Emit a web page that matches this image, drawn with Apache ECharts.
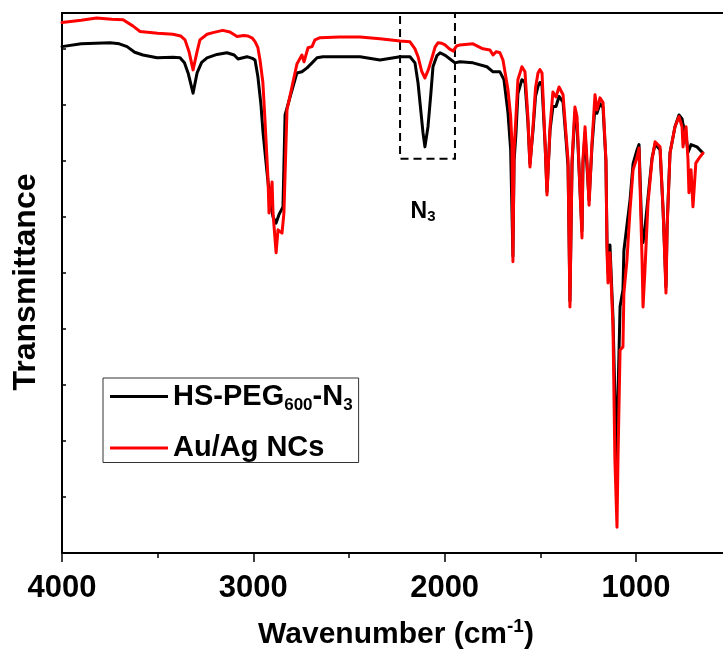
<!DOCTYPE html>
<html>
<head>
<meta charset="utf-8">
<script src="https://cdn.jsdelivr.net/npm/echarts@6/dist/echarts.min.js"></script>
<style>
  html, body { margin: 0; padding: 0; background: #fff; }
  #chart { width: 723px; height: 656px; }
</style>
</head>
<body>
<div id="chart"></div>
<script>
// ---- data (wavenumber cm^-1, transmittance a.u.) ----
const wnBlack = [4000,3900,3749,3700,3660,3620,3577,3503,3420,3383,3360,3341,3315,3294,3270,3242,3190,3138,3100,3080,3033,3005,2991,2976,2960,2949,2930,2913,2897,2881,2866,2845,2834,2808,2772,2746,2719,2693,2667,2636,2442,2338,2233,2181,2155,2139,2113,2103,2087,2072,2061,2040,2024,1995,1972,1946,1920,1852,1779,1747,1711,1690,1669,1655,1643,1637,1627,1617,1596,1580,1565,1554,1538,1525,1512,1502,1491,1475,1465,1449,1434,1418,1402,1381,1366,1355,1345,1334,1319,1308,1292,1282,1277,1266,1256,1245,1230,1214,1204,1188,1172,1157,1151,1146,1136,1120,1110,1099,1094,1083,1068,1063,1047,1031,1015,994,984,968,963,953,937,916,900,874,858,843,837,822,796,775,759,754,738,728,712,681,650];
const tBlack = [90.4,90.9,91.1,90.9,90.4,89.4,88.9,88.4,88.5,88.4,87.5,85.7,82.1,85.7,87.6,88.4,89.0,89.3,88.9,88.2,88.6,88.3,88.0,85.0,80.0,75.0,68.5,62.9,60.0,58.9,60.4,61.8,78.2,81.4,85.7,85.9,86.6,87.5,88.4,88.6,88.6,88.0,88.6,88.6,87.5,83.9,75.0,72.5,76.1,82.0,86.8,88.8,89.3,88.8,88.2,87.5,87.7,87.5,86.8,85.9,85.9,84.5,78.6,72.0,53.0,70.0,75.0,82.0,84.5,84.0,77.0,69.5,75.5,81.5,83.3,84.0,83.5,73.0,64.5,75.5,79.7,79.7,81.5,80.5,74.0,69.0,45.0,69.5,78.5,76.5,64.5,57.5,69.5,75.0,69.0,63.0,72.5,79.7,78.5,80.2,79.5,70.0,55.0,50.0,55.0,42.0,28.0,16.6,28.0,44.0,47.0,54.0,58.5,63.0,69.5,72.0,72.9,56.0,55.4,58.0,63.5,70.5,73.0,72.0,61.0,47.5,58.5,71.4,76.1,78.2,77.5,76.5,74.5,71.5,72.9,72.5,71.4];

const wnRed = [4000,3900,3819,3740,3681,3630,3592,3500,3420,3380,3357,3336,3315,3294,3279,3242,3211,3160,3122,3085,3050,3028,3005,2991,2976,2965,2950,2939,2923,2918,2902,2897,2881,2871,2850,2840,2824,2798,2772,2746,2735,2714,2693,2678,2651,2550,2442,2338,2233,2181,2155,2139,2120,2103,2085,2066,2050,2035,2015,1998,1975,1956,1938,1920,1852,1800,1763,1747,1730,1711,1695,1669,1655,1648,1643,1637,1627,1617,1596,1580,1565,1554,1538,1525,1512,1502,1491,1475,1465,1449,1434,1418,1402,1381,1366,1355,1345,1334,1319,1308,1292,1282,1277,1266,1256,1245,1230,1214,1204,1188,1172,1157,1151,1146,1136,1120,1110,1099,1094,1083,1068,1063,1047,1031,1015,994,984,968,963,953,937,916,900,874,858,843,837,822,796,775,759,754,738,728,723,712,702,687,670,650];
const tRed = [94.7,95.1,95.5,95.3,95.2,94.1,93.1,92.8,92.6,92.3,91.6,89.5,86.25,89.5,91.6,92.6,92.9,93.3,93.0,92.2,92.4,92.3,91.9,91.3,90.2,88.0,84.0,77.3,66.6,60.7,66.25,60.7,53.6,57.7,57.1,60.7,79.1,83.2,87.3,88.9,87.7,90.2,90.4,91.6,92.0,92.1,92.1,91.8,91.4,91.25,90.0,88.6,86.0,84.8,86.3,88.4,90.3,91.1,91.0,90.7,90.0,89.6,90.5,90.7,90.9,90.0,89.8,88.9,89.5,89.3,88.0,82.7,78.0,73.0,52.0,72.0,78.0,84.5,86.8,85.9,78.0,68.9,76.1,83.0,85.7,86.3,85.7,73.2,63.9,76.1,82.3,81.4,83.2,81.8,75.0,70.2,43.9,70.2,79.6,77.9,64.3,56.25,70.2,76.1,70.2,62.1,73.2,81.8,79.1,81.25,80.4,70.2,53.6,48.2,53.6,40.4,16.6,4.6,16.6,36.25,36.8,46.4,52.3,61.25,68.4,70.7,72.3,52.3,43.9,50.5,62.5,70.2,73.4,72.5,61.25,46.4,58.2,71.4,76.1,77.9,76.1,72.5,76.1,70.2,64.3,68.4,61.8,69.6,70.5,71.4];

const seriesNames = ['HS-PEG600-N3', 'Au/Ag NCs'];
const xMajorTicks = [4000, 3000, 2000, 1000];
const xMinorTicks = [3500, 2500, 1500];
const xRange = [545, 4000];
const yRange = [0, 96.4];
const n3Box = [[2233, 96.4], [1946, 70.4]];   // dashed box around the azide band
const n3LabelPos = [2113, 61];

// ---- chart ----
const FONT = '"Liberation Sans", Arial, Helvetica, sans-serif';
const chart = echarts.init(document.getElementById('chart'), null, { renderer: 'canvas' });

function pairs(xs, ys) { return xs.map((x, i) => [x, ys[i]]); }

const axisBase = { type: 'value', inverse: true, min: xRange[0], max: xRange[1], splitLine: { show: false } };

const option = {
  animation: false,
  backgroundColor: '#ffffff',
  color: ['#000000', '#ff0000'],
  grid: {
    left: 62, top: 13, right: 0, bottom: 103,
    containLabel: false, outerBoundsMode: 'none',
    show: false
  },
  xAxis: [
    Object.assign({}, axisBase, {
      position: 'bottom',
      axisLine: { show: true, lineStyle: { color: '#000', width: 2 } },
      axisTick: { show: true, length: 9, customValues: xMajorTicks, lineStyle: { color: '#000', width: 1.5 } },
      axisLabel: {
        margin: 20, customValues: xMajorTicks,
        formatter: v => String(v),
        color: '#000', fontSize: 31, fontWeight: 'bold', fontFamily: FONT
      }
    }),
    Object.assign({}, axisBase, {
      position: 'bottom',
      axisLine: { show: false },
      axisTick: { show: true, length: 5, customValues: xMinorTicks, lineStyle: { color: '#000', width: 1.5 } },
      axisLabel: { show: false }
    }),
    Object.assign({}, axisBase, {
      position: 'top',
      axisLine: { show: true, lineStyle: { color: '#000', width: 2 } },
      axisTick: { show: false },
      axisLabel: { show: false }
    })
  ],
  yAxis: {
    type: 'value',
    min: yRange[0], max: yRange[1], interval: 10,
    position: 'left',
    axisLine: { show: true, lineStyle: { color: '#000', width: 2 } },
    axisTick: { show: true, inside: true, length: 4, lineStyle: { color: '#000', width: 1.5 } },
    axisLabel: { show: false },
    splitLine: { show: false }
  },
  legend: {
    orient: 'vertical',
    left: 103, top: 378,
    padding: [4, 6, 0, 7],
    borderColor: '#333', borderWidth: 1,
    itemGap: 20,
    icon: 'rect',
    itemWidth: 58, itemHeight: 3,
    data: seriesNames,
    formatter: function (name) {
      if (name === 'HS-PEG600-N3') return '{a|HS-PEG}{s|600}{a|-N}{s|3}';
      return '{a|' + name + '}';
    },
    textStyle: {
      color: '#000',
      rich: {
        a: { fontSize: 29, fontWeight: 'bold', fontFamily: FONT, color: '#000', lineHeight: 34 },
        s: { fontSize: 17, fontWeight: 'bold', fontFamily: FONT, color: '#000', lineHeight: 8, verticalAlign: 'bottom' }
      }
    }
  },
  graphic: [
    {
      type: 'text', x: 26, y: 282, rotation: Math.PI / 2,
      style: {
        text: 'Transmittance', fill: '#000',
        font: 'bold 32px ' + FONT,
        align: 'center', verticalAlign: 'middle',
        textAlign: 'center', textVerticalAlign: 'middle'
      }
    },
    {
      type: 'text', x: 396, y: 635,
      style: {
        text: '{a|Wavenumber (cm}{p|-1}{a|)}', fill: '#000',
        align: 'center', verticalAlign: 'middle',
        textAlign: 'center', textVerticalAlign: 'middle',
        rich: {
          a: { fontSize: 30, fontWeight: 'bold', fontFamily: FONT, fill: '#000', lineHeight: 36 },
          p: { fontSize: 19, fontWeight: 'bold', fontFamily: FONT, fill: '#000', lineHeight: 10, verticalAlign: 'top' }
        }
      }
    }
  ],
  series: [
    {
      name: seriesNames[0],
      type: 'line',
      xAxisIndex: 0,
      data: pairs(wnBlack, tBlack),
      showSymbol: false, symbol: 'none',
      lineStyle: { color: '#000000', width: 3, join: 'round', cap: 'round' },
      z: 2
    },
    {
      name: seriesNames[1],
      type: 'line',
      xAxisIndex: 0,
      data: pairs(wnRed, tRed),
      showSymbol: false, symbol: 'none',
      lineStyle: { color: '#ff0000', width: 3, join: 'round', cap: 'round' },
      z: 3,
      markArea: {
        silent: true,
        itemStyle: { color: 'rgba(0,0,0,0)', borderColor: '#000', borderWidth: 2, borderType: [8, 5] },
        label: { show: false },
        data: [[{ coord: n3Box[0] }, { coord: n3Box[1] }]]
      },
      markPoint: {
        silent: true,
        symbol: 'circle', symbolSize: 0,
        data: [{
          coord: n3LabelPos,
          label: {
            show: true, position: 'inside',
            formatter: '{n|N}{s|3}',
            rich: {
              n: { fontSize: 23, fontWeight: 'bold', fontFamily: FONT, color: '#000', lineHeight: 26 },
              s: { fontSize: 15, fontWeight: 'bold', fontFamily: FONT, color: '#000', lineHeight: 6, verticalAlign: 'bottom' }
            }
          }
        }]
      }
    }
  ]
};
chart.setOption(option);
</script>
</body>
</html>
